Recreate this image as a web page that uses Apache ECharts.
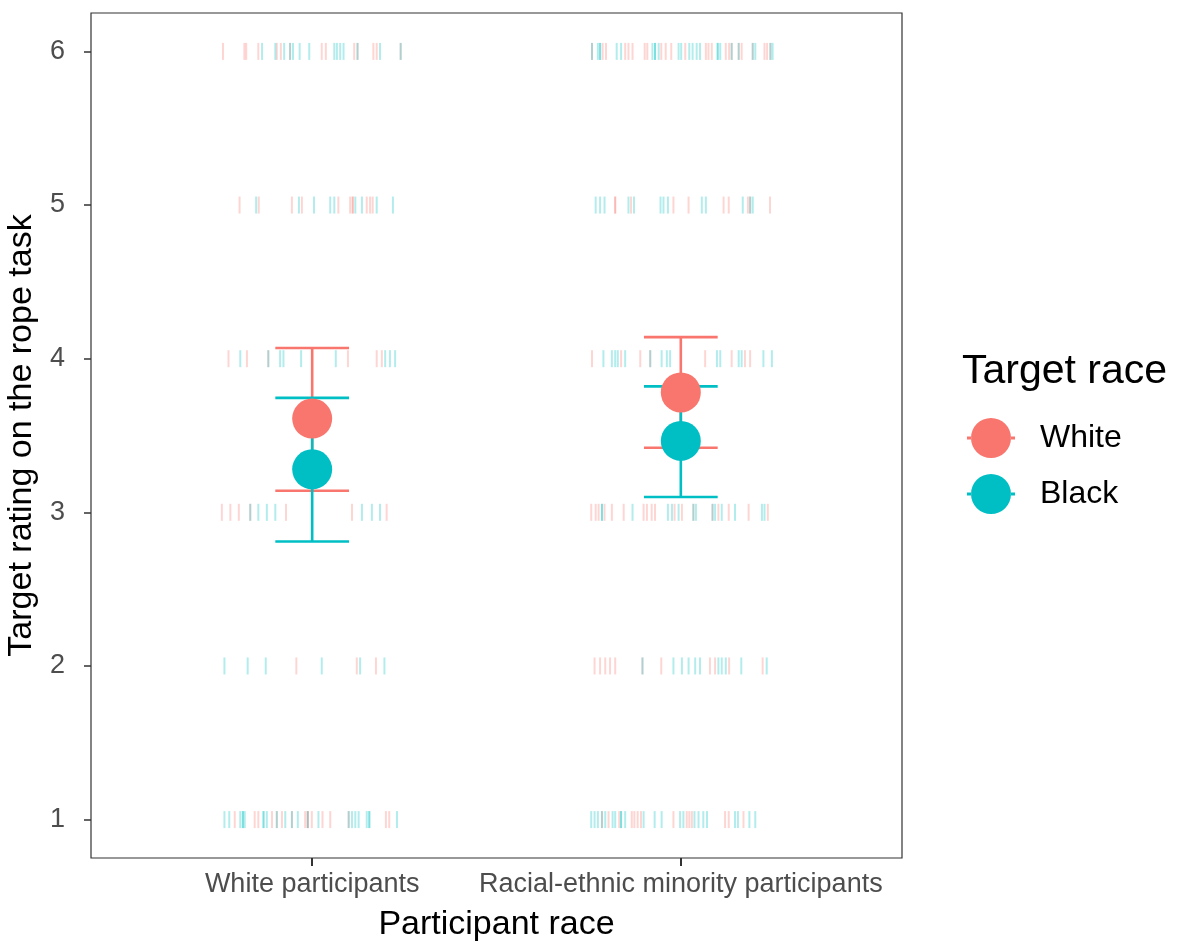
<!DOCTYPE html>
<html>
<head>
<meta charset="utf-8">
<script src="https://cdn.jsdelivr.net/npm/echarts@6/dist/echarts.min.js"></script>
<style>
html,body{margin:0;padding:0;background:#fff;}
#chart{width:1183px;height:944px;}
</style>
</head>
<body>
<div id="chart"></div>
<script>
// ---- Data ----
const categories = ['White participants', 'Racial-ethnic minority participants'];
const yTicks = [1, 2, 3, 4, 5, 6];
const targetRaces = ['White', 'Black'];

// summary: mean and error bar limits, per participant group
const meanWhiteTarget = [3.61, 3.78];
const lowWhiteTarget  = [3.14, 3.42];
const highWhiteTarget = [4.07, 4.14];
const meanBlackTarget = [3.28, 3.465];
const lowBlackTarget  = [2.81, 3.10];
const highBlackTarget = [3.745, 3.82];

// individual ratings: horizontal jitter offsets (category units), index = rating-1
const wpWhiteTarget = [
  [-0.210,-0.156,-0.146,-0.109,-0.096,-0.082,-0.055,-0.019,-0.012,-0.012,-0.001,0.028,0.049,0.099,0.200,0.209],
  [-0.043,0.121,0.173],
  [-0.245,-0.222,-0.199,-0.168,-0.071,0.108,0.202],
  [-0.227,-0.177,-0.119,0.097,0.175,0.189],
  [-0.197,-0.145,-0.055,-0.028,0.071,0.103,0.110,0.110,0.148,0.157,0.164],
  [-0.242,-0.184,-0.179,-0.146,-0.096,-0.085,-0.060,0.026,0.037,0.114,0.123,0.166,0.175,0.240]
];
const wpBlackTarget = [
  [-0.238,-0.225,-0.195,-0.188,-0.188,-0.183,-0.132,-0.132,-0.123,-0.096,-0.073,-0.055,-0.039,-0.012,0.017,0.099,0.108,0.117,0.126,0.148,0.155,0.155,0.230],
  [-0.238,-0.175,-0.126,0.026,0.130,0.196],
  [-0.168,-0.146,-0.123,-0.100,0.135,0.162,0.184],
  [-0.195,-0.119,-0.087,-0.078,-0.030,0.064,0.198,0.211,0.225],
  [-0.152,-0.036,0.005,0.049,0.060,0.117,0.135,0.175,0.219],
  [-0.136,-0.100,-0.076,-0.060,-0.052,-0.034,-0.008,0.060,0.067,0.076,0.085,0.123,0.184,0.240]
];
const mpWhiteTarget = [
  [-0.214,-0.196,-0.167,-0.133,-0.126,-0.117,-0.108,-0.020,0.016,0.023,0.030,0.120,0.130,0.170],
  [-0.234,-0.219,-0.205,-0.192,-0.178,-0.104,-0.053,0.079,0.093,0.131,0.222],
  [-0.243,-0.231,-0.223,-0.207,-0.187,-0.155,-0.101,-0.092,-0.079,-0.070,-0.017,0.003,0.034,0.086,0.102,0.130,0.184,0.236],
  [-0.241,-0.162,-0.110,-0.083,0.066,0.138,0.174,0.188],
  [-0.178,-0.178,-0.135,-0.020,0.021,0.116,0.130,0.182,0.188,0.242],
  [-0.241,-0.212,-0.203,-0.151,-0.142,-0.131,-0.098,-0.091,-0.053,-0.041,-0.026,0.012,0.068,0.075,0.084,0.122,0.131,0.138,0.157,0.165,0.195,0.227,0.234,0.243]
];
const mpBlackTarget = [
  [-0.243,-0.234,-0.225,-0.214,-0.205,-0.185,-0.178,-0.162,-0.162,-0.151,-0.101,-0.071,-0.052,-0.002,0.007,0.037,0.048,0.061,0.071,0.147,0.155,0.186,0.202],
  [-0.104,-0.020,0.003,0.021,0.039,0.052,0.102,0.111,0.122,0.164,0.233],
  [-0.214,-0.214,-0.131,-0.035,-0.024,-0.006,0.034,0.041,0.086,0.093,0.111,0.147,0.220,0.227],
  [-0.210,-0.187,-0.178,-0.171,-0.151,-0.083,-0.052,-0.038,-0.029,0.098,0.107,0.157,0.165,0.224,0.247],
  [-0.231,-0.219,-0.207,-0.142,-0.127,-0.055,-0.047,-0.035,0.057,0.068,0.168,0.188,0.195],
  [-0.241,-0.225,-0.219,-0.219,-0.174,-0.162,-0.077,-0.070,-0.070,-0.060,-0.006,0.001,0.023,0.032,0.043,0.052,0.100,0.100,0.107,0.138,0.157,0.195,0.202,0.243,0.249]
];

// ---- Build ----
const RED = '#F8766D', TEAL = '#00BFC4';
function rugPoints(groupIdx, byRating) {
  const pts = [];
  byRating.forEach((offs, i) => offs.forEach(o => pts.push([groupIdx + 1 + o, yTicks[i]])));
  return pts;
}
const rugWhite = rugPoints(0, wpWhiteTarget).concat(rugPoints(1, mpWhiteTarget));
const rugBlack = rugPoints(0, wpBlackTarget).concat(rugPoints(1, mpBlackTarget));

function ebData(low, high) { return categories.map((c, i) => [i + 1, low[i], high[i]]); }
function meanData(mean) { return categories.map((c, i) => [i + 1, mean[i]]); }

function renderErrorBar(params, api) {
  const x = api.value(0), lo = api.value(1), hi = api.value(2);
  const pT = api.coord([x, hi]), pB = api.coord([x, lo]);
  const half = api.size([0.1, 0])[0];
  const style = { stroke: api.visual('color'), lineWidth: 2.6, fill: null };
  return {
    type: 'group',
    children: [
      { type: 'line', shape: { x1: pT[0], y1: pT[1], x2: pB[0], y2: pB[1] }, style },
      { type: 'line', shape: { x1: pT[0] - half, y1: pT[1], x2: pT[0] + half, y2: pT[1] }, style },
      { type: 'line', shape: { x1: pB[0] - half, y1: pB[1], x2: pB[0] + half, y2: pB[1] }, style }
    ]
  };
}

const legendIcon = 'path://M4,20 A20,20 0 1,0 44,20 A20,20 0 1,0 4,20 Z M0,18.6 L4.2,18.6 L4.2,21.4 L0,21.4 Z M43.8,18.6 L48,18.6 L48,21.4 L43.8,21.4 Z';

const chart = echarts.init(document.getElementById('chart'), null, { renderer: 'canvas' });
const FONT = 'Liberation Sans, Arial, sans-serif';
chart.setOption({
  backgroundColor: '#fff',
  animation: false,
  textStyle: { fontFamily: FONT },
  title: {
    text: 'Target race', left: 957, top: 346,
    textStyle: { fontSize: 41, fontWeight: 'normal', color: '#000', fontFamily: FONT }
  },
  legend: {
    orient: 'vertical', left: 962, top: 413,
    itemWidth: 48, itemHeight: 40, itemGap: 16,
    data: [{ name: targetRaces[0], icon: legendIcon }, { name: targetRaces[1], icon: legendIcon }],
    textStyle: { fontSize: 32, color: '#000', fontFamily: FONT, padding: [0, 0, 0, 20] },
    selectedMode: false
  },
  grid: {
    left: 91, right: 281, top: 13, bottom: 86,
    outerBoundsMode: 'none', containLabel: false,
    show: true, borderColor: '#333333', borderWidth: 1.2, backgroundColor: 'transparent'
  },
  xAxis: {
    type: 'value', min: 0.4, max: 2.6,
    name: 'Participant race', nameLocation: 'middle', nameGap: 50,
    nameTextStyle: { fontSize: 34, color: '#000', fontFamily: FONT },
    splitLine: { show: false },
    axisLine: { show: false },
    axisTick: { show: true, length: 8, lineStyle: { color: '#333', width: 2 }, customValues: [1, 2] },
    axisLabel: {
      customValues: [1, 2], fontSize: 27, color: '#4D4D4D', margin: 13, fontFamily: FONT,
      formatter: v => categories[Math.round(v) - 1]
    }
  },
  yAxis: {
    type: 'value', min: 0.75, max: 6.25,
    name: 'Target rating on the rope task', nameLocation: 'middle', nameGap: 44, nameRotate: 90,
    nameTextStyle: { fontSize: 34, color: '#000', fontFamily: FONT },
    splitLine: { show: false },
    axisLine: { show: false },
    axisTick: { show: true, length: 7, lineStyle: { color: '#333', width: 1.5 }, customValues: yTicks },
    axisLabel: { customValues: yTicks, fontSize: 27, color: '#4D4D4D', margin: 26, fontFamily: FONT }
  },
  series: [
    { name: 'rugWhite', type: 'scatter', data: rugWhite, symbol: 'rect', symbolSize: [2, 17],
      itemStyle: { color: RED, opacity: 0.3 }, silent: true, z: 1 },
    { name: 'rugBlack', type: 'scatter', data: rugBlack, symbol: 'rect', symbolSize: [2, 17],
      itemStyle: { color: TEAL, opacity: 0.3 }, silent: true, z: 1 },
    { name: targetRaces[0], type: 'custom', renderItem: renderErrorBar, data: ebData(lowWhiteTarget, highWhiteTarget),
      itemStyle: { color: RED }, z: 2 },
    { name: targetRaces[1], type: 'custom', renderItem: renderErrorBar, data: ebData(lowBlackTarget, highBlackTarget),
      itemStyle: { color: TEAL }, z: 2 },
    { name: targetRaces[0], type: 'scatter', data: meanData(meanWhiteTarget), symbolSize: 40,
      itemStyle: { color: RED, opacity: 1 }, z: 3 },
    { name: targetRaces[1], type: 'scatter', data: meanData(meanBlackTarget), symbolSize: 40,
      itemStyle: { color: TEAL, opacity: 1 }, z: 3 }
  ]
});
</script>
</body>
</html>
